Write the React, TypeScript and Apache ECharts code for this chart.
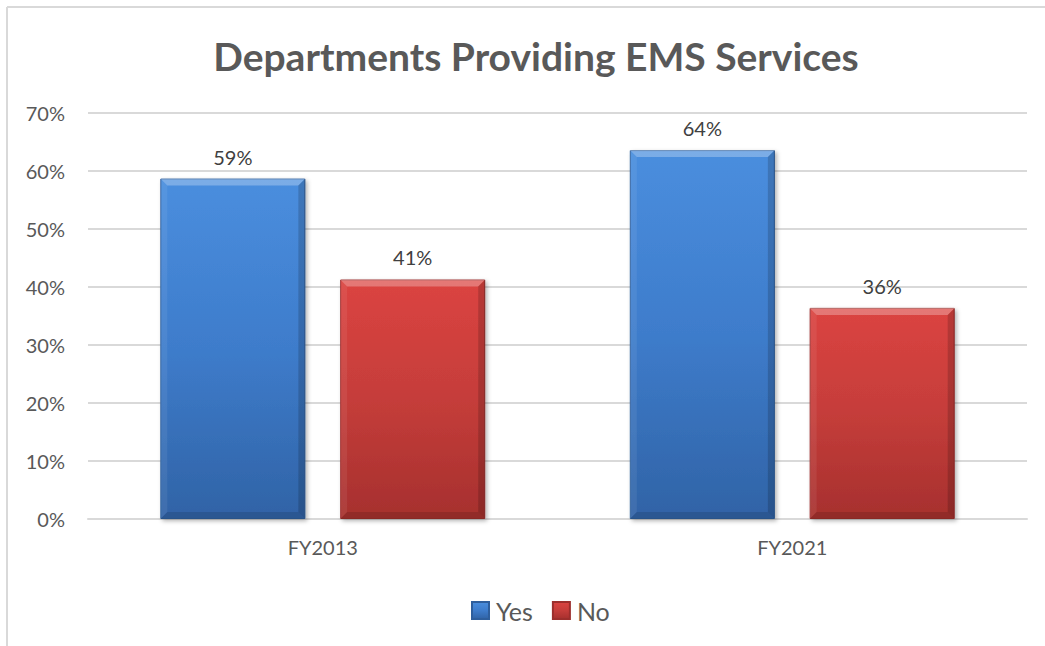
import React, { useEffect, useRef } from "react";
import * as echarts from "echarts";

const categories = ["FY2013", "FY2021"];
const yesValues = [58.7, 63.6];
const noValues = [41.3, 36.4];
const yTicks = [0, 10, 20, 30, 40, 50, 60, 70];

const FONT = "Lato, 'Open Sans', sans-serif";
const CAT_GAP = 0.308;
const BAR_GAP = 0.24;

export default function App() {
  const ref = useRef<HTMLDivElement>(null);
  useEffect(() => {
    if (!ref.current) return;
    const chart = echarts.init(ref.current, null, { renderer: "svg" });
    const blue = new echarts.graphic.LinearGradient(0, 0, 0, 1, [
      { offset: 0, color: "#4A8EDE" },
      { offset: 0.5, color: "#3E7CCB" },
      { offset: 1, color: "#3063A6" },
    ]);
    const red = new echarts.graphic.LinearGradient(0, 0, 0, 1, [
      { offset: 0, color: "#DB4441" },
      { offset: 0.5, color: "#C53D3A" },
      { offset: 1, color: "#A6302E" },
    ]);
    const label = {
      show: true,
      position: "top",
      distance: 12,
      color: "#404040",
      fontSize: 20,
      fontFamily: FONT,
      formatter: (p: any) => Math.round(p.value) + "%",
    };
    const bevelData: number[][] = [];
    categories.forEach((_, i) => {
      bevelData.push([i, yesValues[i], 0]);
      bevelData.push([i, noValues[i], 1]);
    });
    const renderBevel = (params: any, api: any) => {
      const cat = api.value(0);
      const v = api.value(1);
      const s = api.value(2);
      const top = api.coord([cat, v]);
      const base = api.coord([cat, 0]);
      const band = api.size([1, 0])[0];
      const bw = (band * (1 - CAT_GAP)) / (2 + BAR_GAP);
      const cx = top[0] - (bw * (1 + BAR_GAP)) / 2 + s * bw * (1 + BAR_GAP);
      const x0 = cx - bw / 2;
      const x1 = cx + bw / 2;
      const y0 = top[1];
      const y1 = base[1];
      const b = 7;
      return {
        type: "group",
        children: [
          {
            type: "polygon",
            shape: { points: [[x0, y0], [x1, y0], [x1 - b, y0 + b], [x0 + b, y0 + b]] },
            style: { fill: "rgba(255,255,255,0.28)" },
          },
          {
            type: "polygon",
            shape: { points: [[x0, y0], [x0 + b, y0 + b], [x0 + b, y1 - b], [x0, y1]] },
            style: { fill: "rgba(255,255,255,0.07)" },
          },
          {
            type: "polygon",
            shape: { points: [[x1, y0], [x1, y1], [x1 - b, y1 - b], [x1 - b, y0 + b]] },
            style: { fill: "rgba(0,0,0,0.16)" },
          },
          {
            type: "polygon",
            shape: { points: [[x0, y1], [x1, y1], [x1 - b, y1 - b], [x0 + b, y1 - b]] },
            style: { fill: "rgba(0,0,0,0.12)" },
          },
        ],
      };
    };
    chart.setOption({
      animation: false,
      backgroundColor: "#ffffff",
      textStyle: { fontFamily: FONT },
      title: {
        text: "Departments Providing EMS Services",
        left: 531,
        textAlign: "center",
        top: 31,
        textStyle: { fontSize: 39, fontWeight: "bold", color: "#595959", fontFamily: FONT },
      },
      graphic: [
        { type: "line", shape: { x1: 7, y1: 7, x2: 1045, y2: 7 }, style: { stroke: "#d9d9d9", lineWidth: 2 } },
        { type: "line", shape: { x1: 7, y1: 7, x2: 7, y2: 646 }, style: { stroke: "#d9d9d9", lineWidth: 2 } },
      ],
      legend: {
        data: ["Yes", "No"],
        left: 466,
        top: 593,
        itemWidth: 17,
        itemHeight: 17,
        itemGap: 19,
        icon: "rect",
        textStyle: { fontSize: 25, color: "#595959", fontFamily: FONT, padding: [0, 0, 0, 2] },
      },
      grid: { left: 88, right: 18, top: 113, bottom: 127, containLabel: false },
      xAxis: {
        type: "category",
        data: categories,
        axisLine: { lineStyle: { color: "#d9d9d9", width: 2 } },
        axisTick: { show: false },
        axisLabel: { color: "#595959", fontSize: 20, margin: 18, fontFamily: FONT },
      },
      yAxis: {
        type: "value",
        min: yTicks[0],
        max: yTicks[yTicks.length - 1],
        interval: 10,
        axisLine: { show: false },
        axisTick: { show: false },
        splitLine: { lineStyle: { color: "#d9d9d9", width: 2 } },
        axisLabel: {
          color: "#595959",
          fontSize: 20,
          margin: 23,
          fontFamily: FONT,
          formatter: (v: number) => v + "%",
        },
      },
      series: [
        {
          name: "Yes",
          type: "bar",
          data: yesValues,
          barGap: BAR_GAP * 100 + "%",
          barCategoryGap: CAT_GAP * 100 + "%",
          itemStyle: {
            color: blue,
            borderColor: "#2E5E9C",
            borderWidth: 1,
            shadowColor: "rgba(0,0,0,0.3)",
            shadowBlur: 4,
            shadowOffsetX: 2,
            shadowOffsetY: 2,
          },
          label,
        },
        {
          name: "No",
          type: "bar",
          data: noValues,
          itemStyle: {
            color: red,
            borderColor: "#9C2E2C",
            borderWidth: 1,
            shadowColor: "rgba(0,0,0,0.3)",
            shadowBlur: 4,
            shadowOffsetX: 2,
            shadowOffsetY: 2,
          },
          label,
        },
        {
          name: "bevel",
          type: "custom",
          data: bevelData,
          encode: { x: 0, y: 1 },
          renderItem: renderBevel,
          silent: true,
          z: 5,
        },
      ],
    });
    return () => chart.dispose();
  }, []);
  return (
    <div
      ref={ref}
      style={{ position: "fixed", left: 0, top: 0, width: 1045, height: 646 }}
    />
  );
}
